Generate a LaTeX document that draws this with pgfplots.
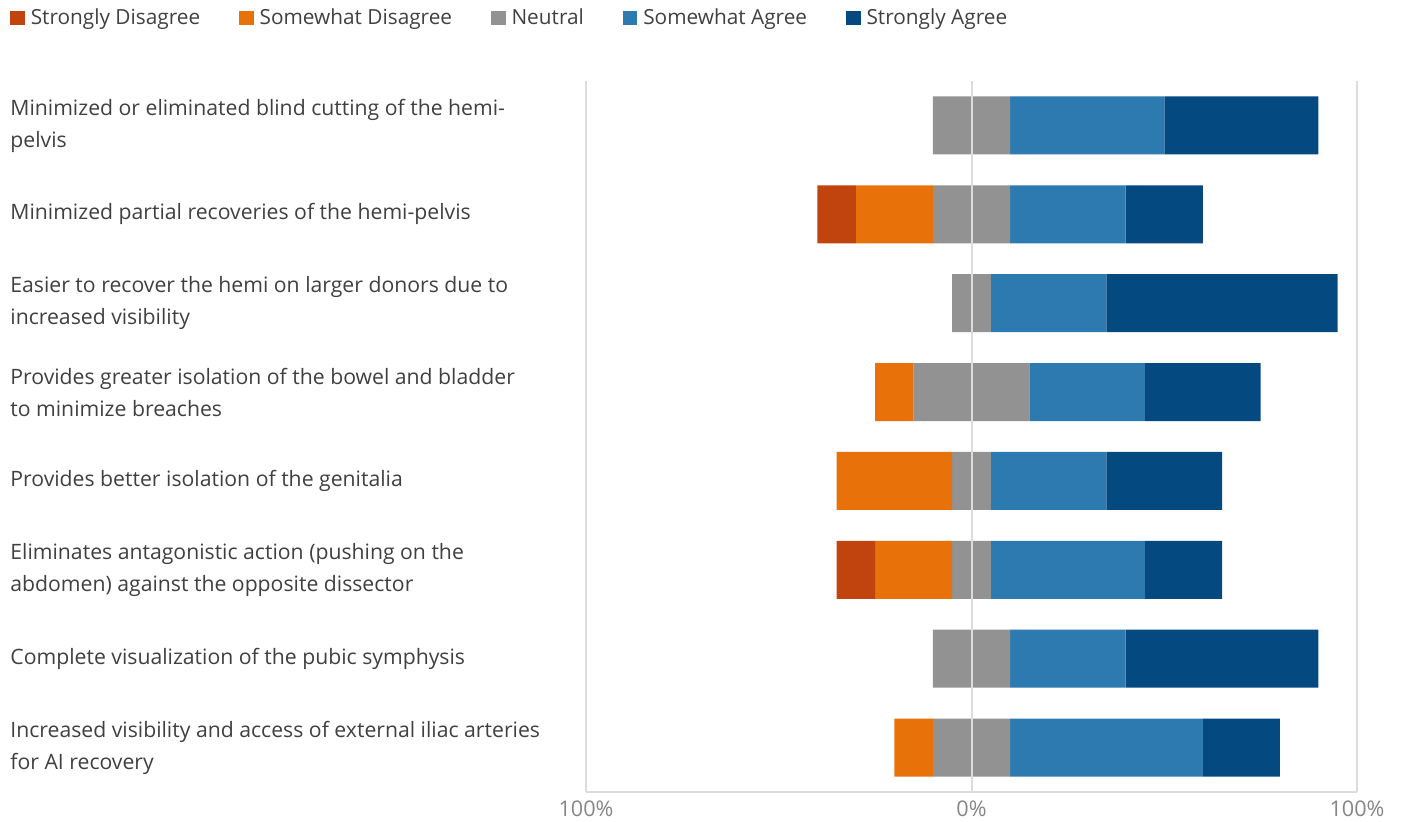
\documentclass[border=0pt]{standalone}
\usepackage{pgfplots}
\pgfplotsset{compat=1.18}
\usepackage{pgfplotstable}
\usepackage{fontspec}
\setmainfont{Open Sans}
\definecolor{cStD}{RGB}{193,68,14}
\definecolor{cSD}{RGB}{233,113,10}
\definecolor{cN}{RGB}{146,146,146}
\definecolor{cSA}{RGB}{45,122,176}
\definecolor{cStA}{RGB}{4,74,128}
\definecolor{txt}{RGB}{64,64,64}
\definecolor{gridc}{RGB}{220,220,220}
% positions measured from the left end of the axis (-100% = 0, 0% = 100, 100% = 200)
\pgfplotstableread{
y off std sd neu sa sta
0 90 0 0 20 40 40
1 60 10 20 20 30 20
2 95 0 0 10 30 60
3 75 0 10 30 30 30
4 65 0 30 10 30 30
5 65 10 20 10 40 20
6 90 0 0 20 30 50
7 80 0 10 20 50 20
}\likert
\begin{document}
\begin{tikzpicture}
\useasboundingbox (-293pt,-15pt) rectangle (407.5pt,396pt);
\begin{axis}[
  at={(0pt,0pt)}, anchor=south west,
  scale only axis, width=385.5pt, height=355.5pt,
  xbar stacked, bar width=0.653,
  xmin=0, xmax=200, ymin=-0.5, ymax=7.5, y dir=reverse,
  enlargelimits=false,
  axis on top,
  axis x line*=bottom, axis y line*=left,
  x axis line style={draw=gridc, line width=1pt},
  y axis line style={draw=none},
  xmajorgrids, grid style={draw=gridc, line width=1pt},
  major tick length=0pt,
  xtick={0,100,200}, xticklabels={100\%,0\%,100\%},
  xticklabel style={font=\fontsize{10.8}{12}\selectfont, text=gray!95, inner sep=0pt, yshift=-4pt},
  ytick={0,...,7},
  yticklabels={
    {Minimized or eliminated blind cutting of the hemi-\\pelvis},
    {Minimized partial recoveries of the hemi-pelvis},
    {Easier to recover the hemi on larger donors due to\\increased visibility},
    {Provides greater isolation of the bowel and bladder\\to minimize breaches},
    {Provides better isolation of the genitalia},
    {Eliminates antagonistic action (pushing on the\\abdomen) against the opposite dissector},
    {Complete visualization of the pubic symphysis},
    {Increased visibility and access of external iliac arteries\\for AI recovery}},
  yticklabel style={font=\fontsize{10.6}{16}\selectfont, text=txt, align=left, anchor=west, inner sep=0pt, xshift=-288pt},
  legend columns=5,
  legend style={draw=none, fill=none, at={(-0.7471,1.0886)}, anchor=west,
    font=\fontsize{10.4}{12}\selectfont, text=txt, inner sep=0pt,
    /tikz/every even column/.append style={column sep=17.5pt},
    /tikz/every odd column/.append style={column sep=1pt}},
  legend image code/.code={\fill[#1] (0pt,-3.6pt) rectangle (7.2pt,3.6pt);},
]
\addplot[draw=none, fill=none, forget plot] table[x=off, y=y] {\likert};
\addplot[draw=none, fill=cStD] table[x=std, y=y] {\likert};
\addplot[draw=none, fill=cSD] table[x=sd, y=y] {\likert};
\addplot[draw=none, fill=cN] table[x=neu, y=y] {\likert};
\addplot[draw=none, fill=cSA] table[x=sa, y=y] {\likert};
\addplot[draw=none, fill=cStA] table[x=sta, y=y] {\likert};
\legend{Strongly Disagree, Somewhat Disagree, Neutral, Somewhat Agree, Strongly Agree}
\end{axis}
\end{tikzpicture}
\end{document}
